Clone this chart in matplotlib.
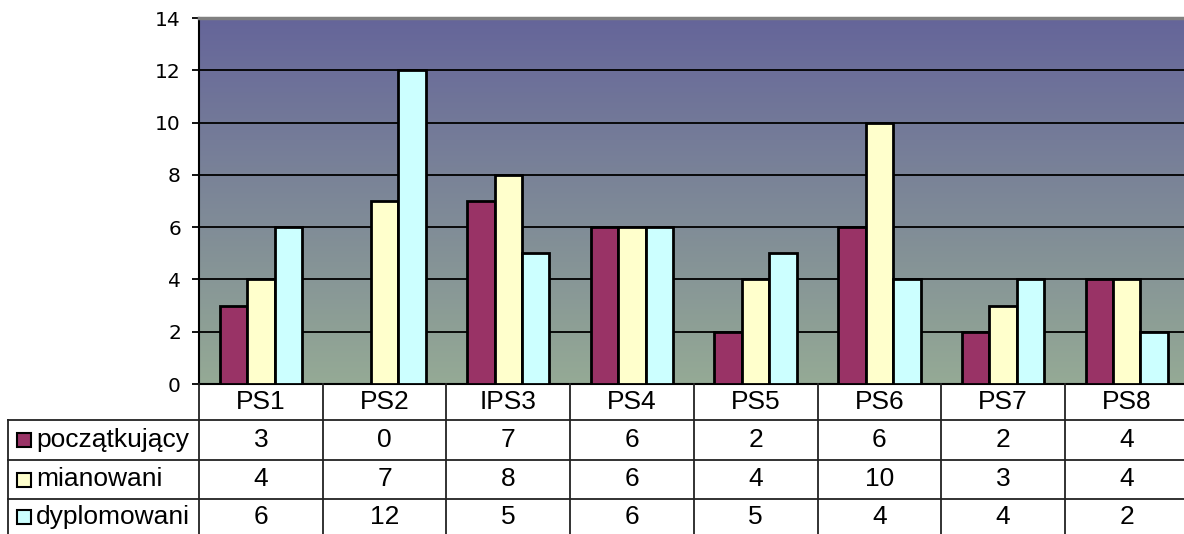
import matplotlib
matplotlib.use('Agg')
import matplotlib.pyplot as plt
import numpy as np
from matplotlib.colors import LinearSegmentedColormap
from matplotlib.lines import Line2D
from matplotlib.patches import Rectangle
from matplotlib.transforms import blended_transform_factory

# Data
schools = ['PS1', 'PS2', 'IPS3', 'PS4', 'PS5', 'PS6', 'PS7', 'PS8']
series_names = ['początkujący', 'mianowani', 'dyplomowani']
poczatkujacy = [3, 0, 7, 6, 2, 6, 2, 4]
mianowani = [4, 7, 8, 6, 4, 10, 3, 4]
dyplomowani = [6, 12, 5, 6, 5, 4, 4, 2]
series = [poczatkujacy, mianowani, dyplomowani]
colors = ['#993366', '#FFFFCC', '#CCFFFF']

W, H = 1184, 534
fig = plt.figure(figsize=(W / 100, H / 100), dpi=100)
ax = fig.add_axes([199 / W, 150 / H, 989.6 / W, 366 / H])

# gradient background of the plot area
bg = LinearSegmentedColormap.from_list('bg', ['#65659A', '#95AA95'])
ax.imshow(np.linspace(0, 1, 256).reshape(-1, 1), cmap=bg, aspect='auto',
          extent=[0, len(schools), 0, 14], zorder=0)

# grouped bars (gap width 150%)
bw = 1 / 4.5
x = np.arange(len(schools)) + 0.5
for j, vals in enumerate(series):
    ax.bar(x + (j - 1) * bw, vals, width=bw, color=colors[j],
           edgecolor='black', linewidth=2, zorder=3)

ax.set_xlim(0, len(schools))
ax.set_ylim(0, 14)
ax.set_yticks(range(0, 15, 2))
ax.set_xticks([])
ax.yaxis.grid(True, color='black', linewidth=1.3)
ax.tick_params(axis='y', direction='out', length=5, width=1.3, pad=8,
               labelsize=14.5)
ax.spines['right'].set_visible(False)
ax.spines['top'].set_color('#808080')
ax.spines['top'].set_linewidth(2.5)
ax.spines['left'].set_linewidth(1.5)
ax.spines['bottom'].set_linewidth(1.5)

# data table below the chart
def fy(ypx):
    return 1 - ypx / H

trans = blended_transform_factory(ax.transData, fig.transFigure)
lc = '#222222'
row_edges = [384, 420, 460, 499]
row_centers = [440, 479.5, 517]
tfont = dict(family='Liberation Sans', fontsize=19, color='black')

for i in range(len(schools) + 1):
    fig.add_artist(Line2D([i, i], [fy(384), fy(534)], transform=trans,
                          color=lc, lw=1.3))
fig.add_artist(Line2D([8 / W, 8 / W], [fy(420), fy(534)],
                      transform=fig.transFigure, color=lc, lw=1.3))
for ye in row_edges[1:]:
    fig.add_artist(Line2D([8 / W, 1], [fy(ye), fy(ye)],
                          transform=fig.transFigure, color=lc, lw=1.3))

for i, s in enumerate(schools):
    fig.text(x[i], fy(402), s, transform=trans, ha='center', va='center', **tfont)
    for j, vals in enumerate(series):
        fig.text(x[i], fy(row_centers[j]), str(vals[i]),
                 transform=trans, ha='center', va='center', **tfont)

for j, name in enumerate(series_names):
    yc = row_centers[j]
    fig.add_artist(Rectangle((17 / W, fy(yc + 7)), 14 / W, 14 / H,
                             transform=fig.transFigure, facecolor=colors[j],
                             edgecolor='black', lw=1.5))
    fig.text(36 / W, fy(yc), name, ha='left', va='center', **tfont)

fig.savefig('out.png', dpi=100)
